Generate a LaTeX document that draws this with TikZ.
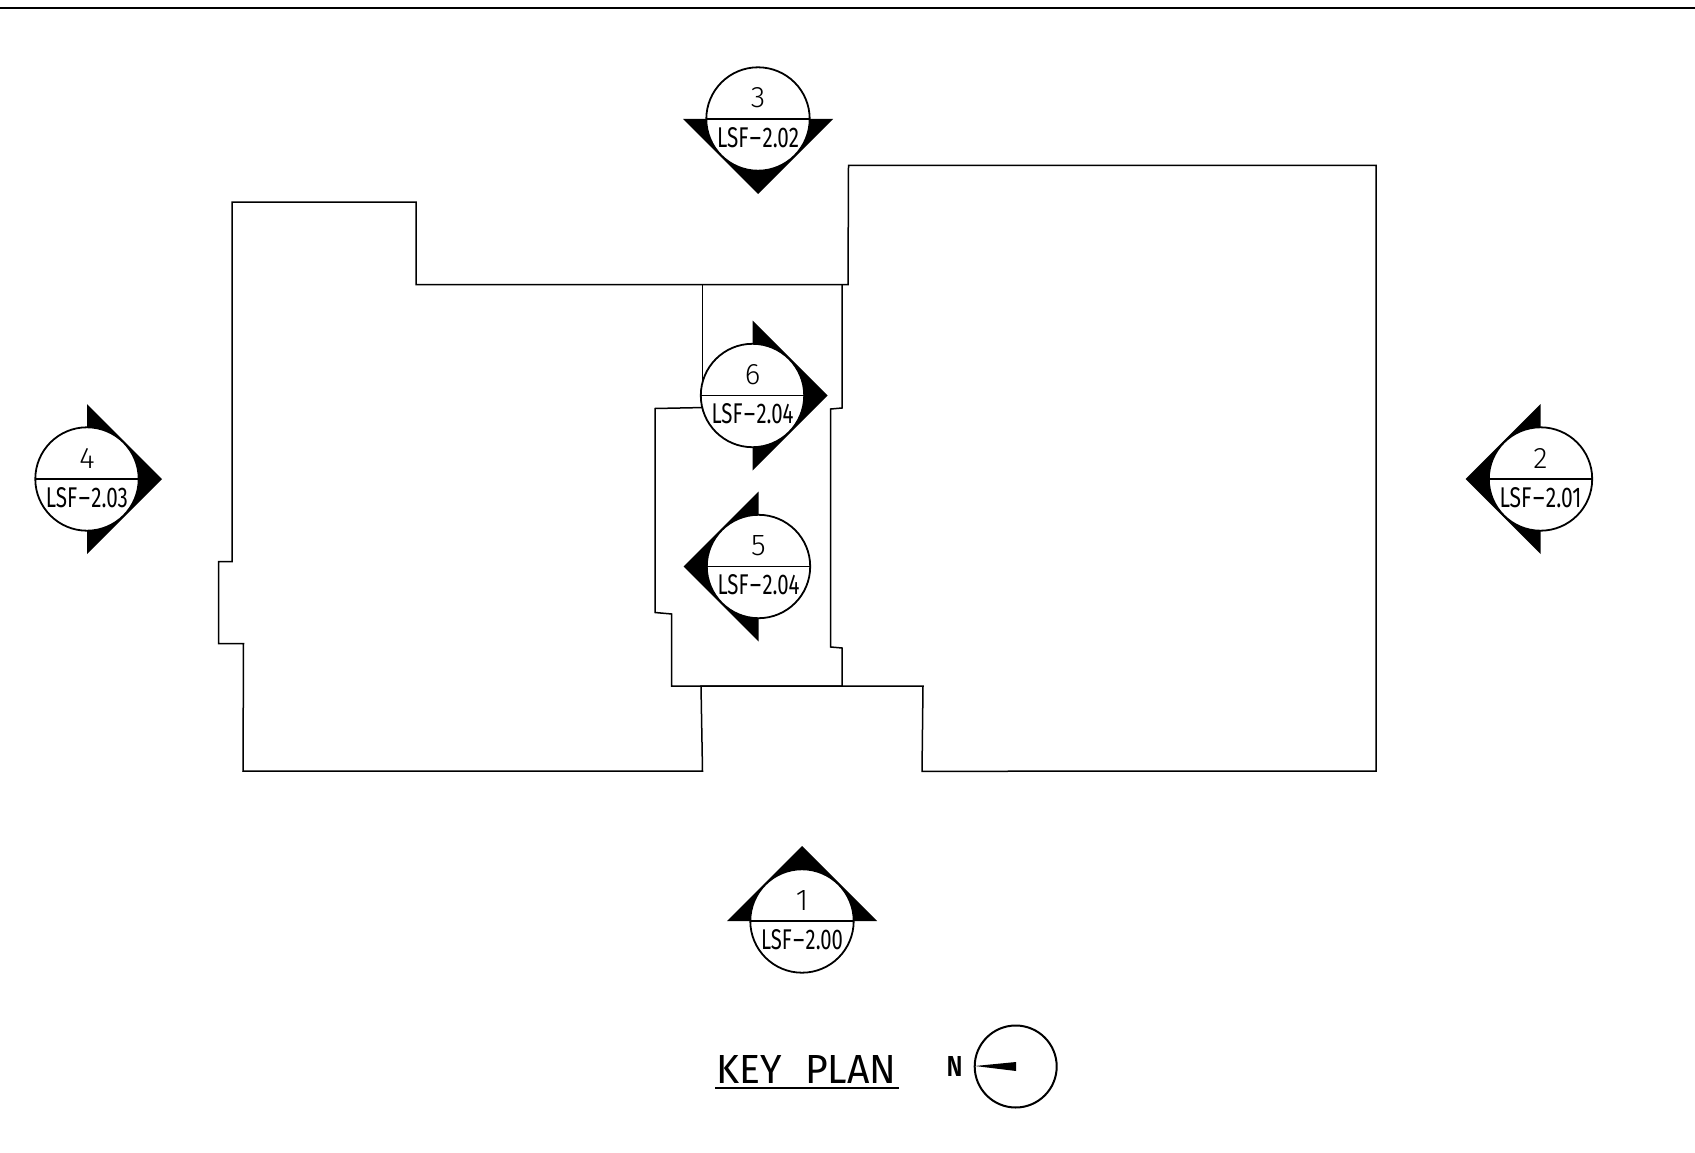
\documentclass[tikz,border=0pt]{standalone}
\usepackage{fontspec}
\usepackage{graphicx}
\setmainfont{Fira Sans}
\newfontfamily\lightfont{Fira Sans Light}
\newcommand{\fit}[3]{\resizebox{#1pt}{#2pt}{#3}}
\newcommand{\longdash}{\scalebox{1.7}[1]{-}}
\tikzset{
  outline/.style={line width=1.5pt,line join=miter,black},
  ring/.style={line width=1.8pt,draw=black,fill=white},
  lab/.style={inner sep=0pt,outer sep=0pt,anchor=center,text=black},
}
\newcommand{\secmark}[6]{% name, x, y, rotation, number, ref
  \begin{scope}[shift={(#2,#3)}]
    \fill[black,rotate=#4] (-75,0) -- (75,0) -- (0,-75) -- cycle;
    \draw[ring] (0,0) circle[radius=51.7];
    \draw[line width=1.1pt] (-51.7,0) -- (51.7,0);
    \node[lab] (#1num) at (0,-21) {\resizebox{!}{20pt}{\lightfont #5}};
    \node[lab] (#1ref) at (0,18.5) {\fit{82}{20}{LSF\longdash#6}};
  \end{scope}
}
\begin{document}
\begin{tikzpicture}[x=1pt,y=-1pt]
\useasboundingbox (0,0) rectangle (1695,1153);
\fill[white] (0,0) rectangle (1695,1153);
\draw[line width=2pt] (0,8) -- (1695,8);
% building outline
\draw[outline] (232,202) -- (416,202) -- (416,284.5) -- (848,284.5) -- (848.5,165.5) -- (1376,165.5) -- (1376,771) -- (922,771.3) -- (923,686) -- (701,686) -- (702.5,771) -- (243,771) -- (243.5,643.5) -- (218.5,643.5) -- (218.5,561.5) -- (232,561.5) -- cycle;
\draw[outline] (702.5,284.5) -- (702.5,388);
\draw[outline] (842,284.5) -- (842,408) -- (830.7,409) -- (830.7,647) -- (842,648) -- (842,686);
\draw[outline] (705,407.5) -- (655,408.5) -- (655,612.5) -- (671.7,614) -- (671.7,686) -- (842,686);
% section marks
\secmark{a}{802}{921}{0}{1}{2.00}
\secmark{b}{1540.5}{479}{90}{2}{2.01}
\secmark{c}{758}{119}{180}{3}{2.02}
\secmark{d}{87}{479}{-90}{4}{2.03}
\secmark{e}{758.5}{566.5}{90}{5}{2.04}
\secmark{f}{752.5}{395.5}{-90}{6}{2.04}
% title
\node[lab] (title) at (806.5,1069) {\fit{180}{28}{KEY\hspace{0.6em}PLAN}};
\draw[line width=2.2pt] (715,1088) -- (899,1088);
\node[lab] (north) at (954.5,1066.5) {\fit{16}{20}{\fontspec{Fira Sans SemiBold}N}};
\draw[line width=2pt] (1015.7,1066.5) circle[radius=41];
\fill[black] (975,1066) -- (1016,1062) -- (1016,1071) -- cycle;
\end{tikzpicture}
\end{document}
